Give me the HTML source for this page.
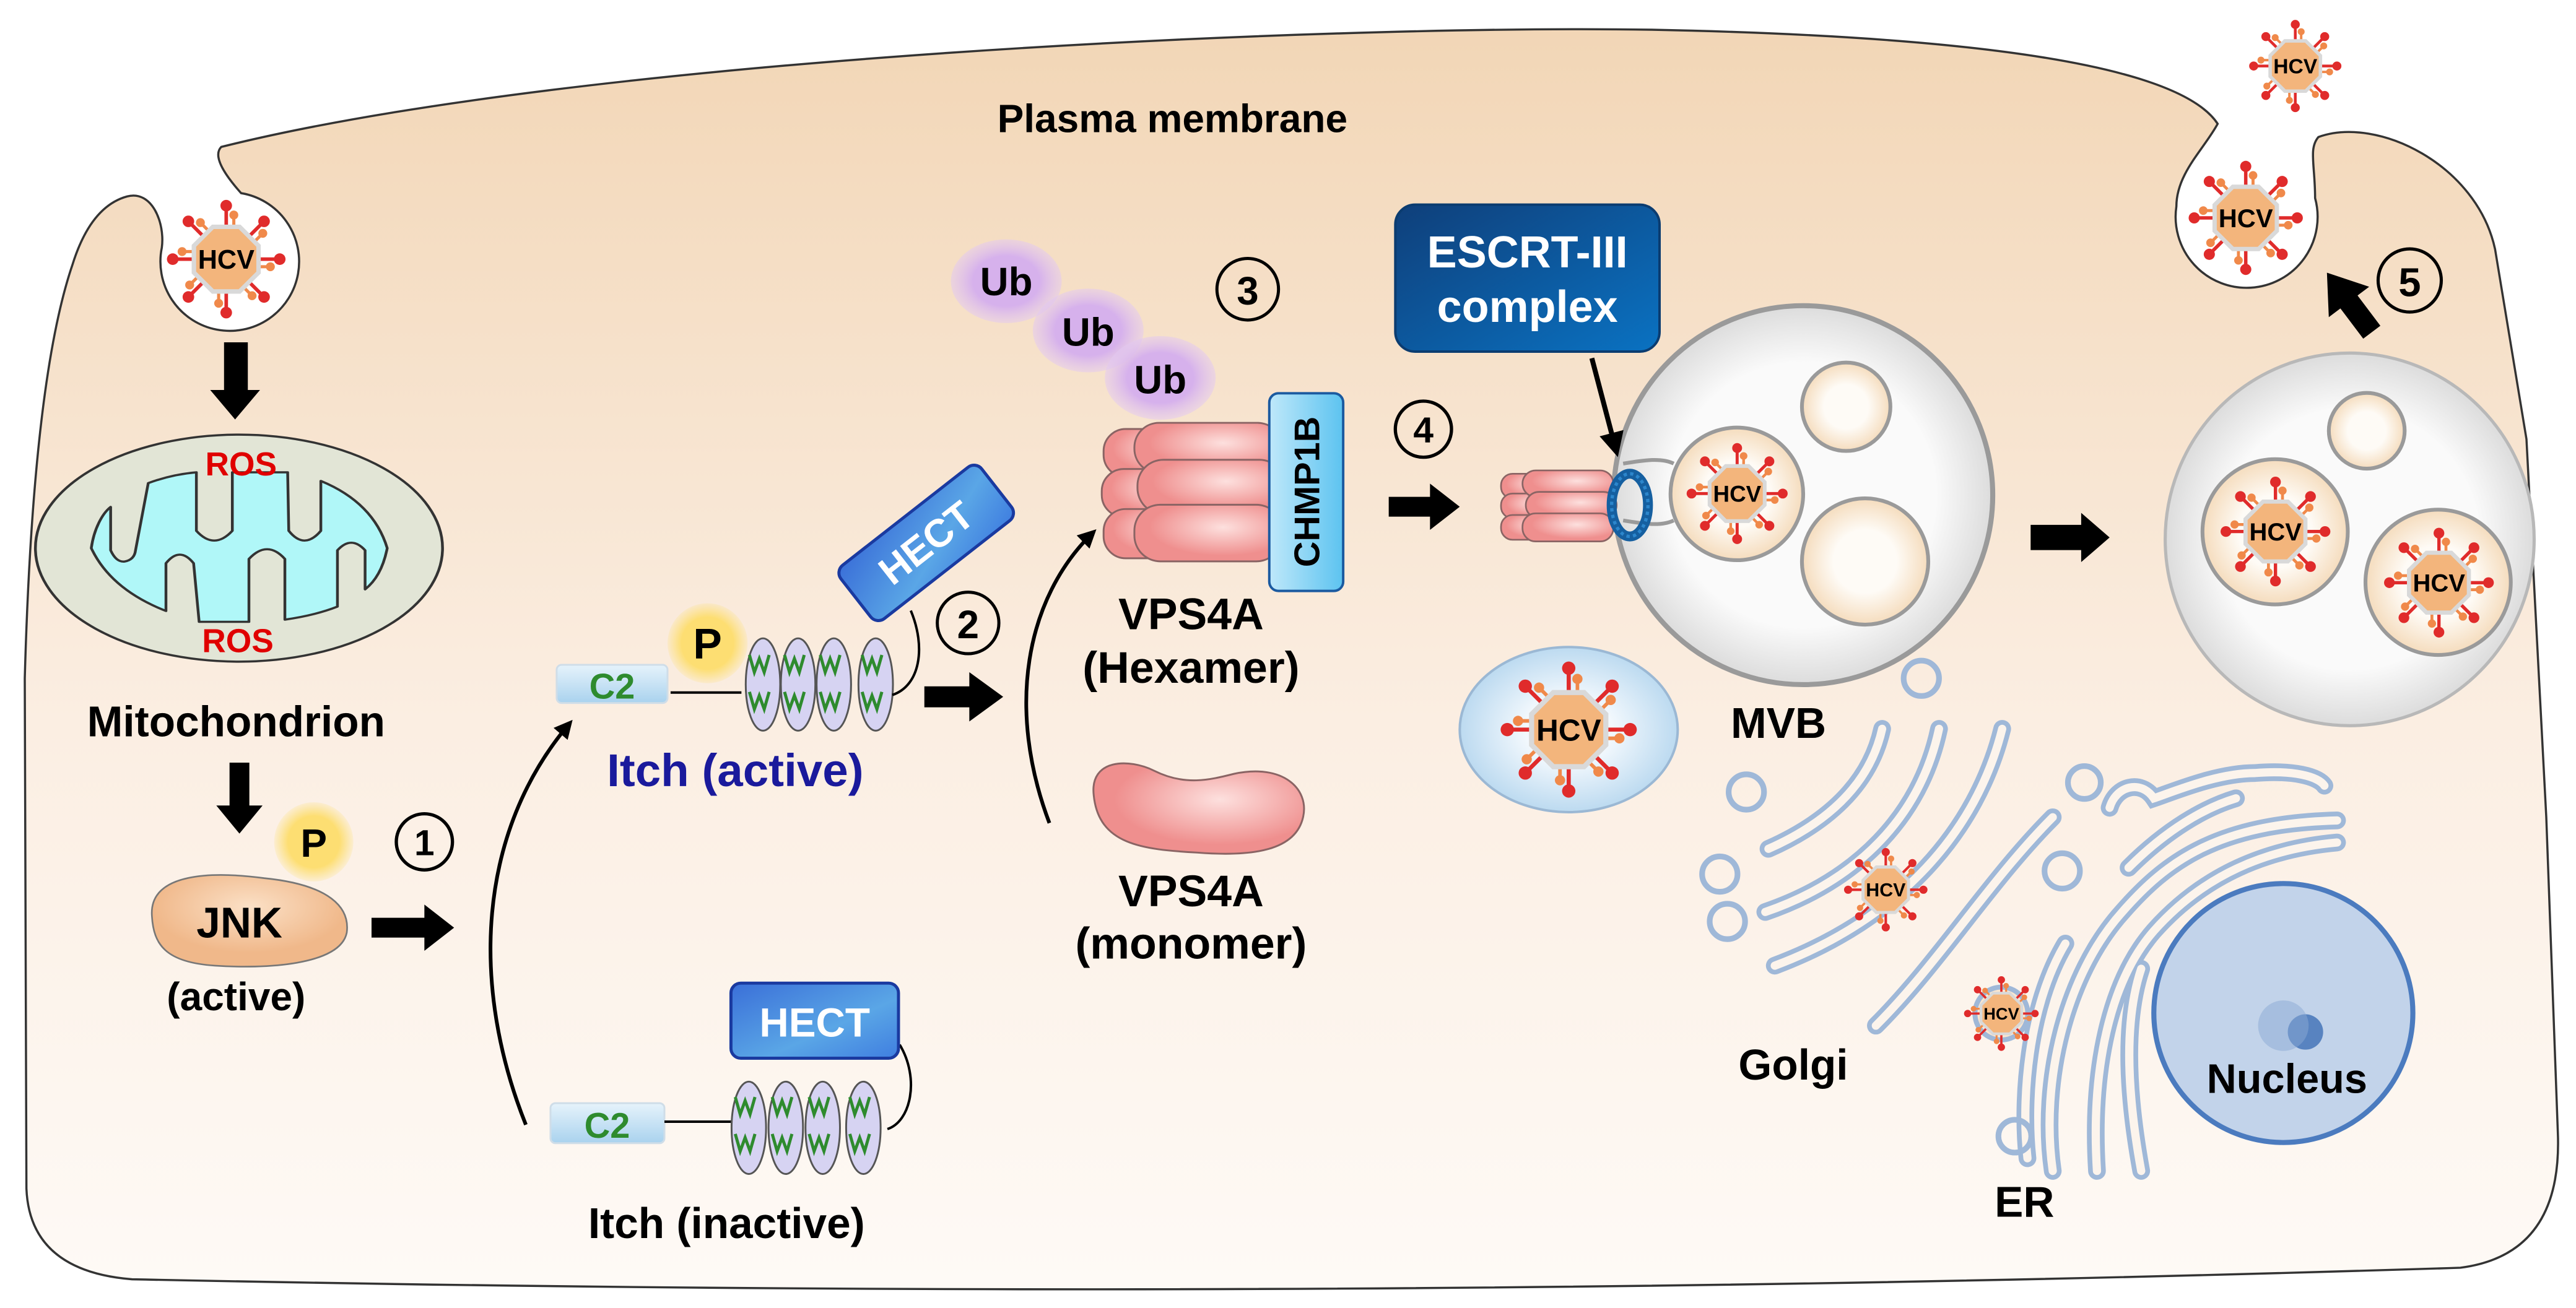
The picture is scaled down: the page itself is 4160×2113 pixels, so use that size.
<!DOCTYPE html>
<html><head><meta charset="utf-8"><style>
html,body{margin:0;padding:0;background:#fff;}
svg{display:block;font-family:"Liberation Sans",Arial,sans-serif;font-weight:bold;}
</style></head><body>
<svg width="4160" height="2113" viewBox="0 0 1560 792.4" preserveAspectRatio="none" xmlns="http://www.w3.org/2000/svg">
<defs>
<linearGradient id="cell" x1="0" y1="0" x2="0" y2="1"><stop offset="0" stop-color="#f2d6b6"/><stop offset="0.55" stop-color="#fbeee2"/><stop offset="1" stop-color="#fefaf6"/></linearGradient>
<radialGradient id="yel"><stop offset="0.65" stop-color="#fdde72"/><stop offset="1" stop-color="#fde07a" stop-opacity="0.2"/></radialGradient>
<radialGradient id="ub"><stop offset="0.6" stop-color="#d6b1ec"/><stop offset="1" stop-color="#e2c8f2" stop-opacity="0.5"/></radialGradient>
<linearGradient id="c2" x1="0" y1="0" x2="0" y2="1"><stop offset="0" stop-color="#e6f3fb"/><stop offset="1" stop-color="#a9d2ee"/></linearGradient>
<linearGradient id="hect" x1="0" y1="0" x2="1" y2="1"><stop offset="0" stop-color="#3a6fd8"/><stop offset="0.6" stop-color="#5aa6e6"/><stop offset="1" stop-color="#3f7ee0"/></linearGradient>
<linearGradient id="chmp" x1="0" y1="0" x2="1" y2="0"><stop offset="0" stop-color="#bfe8fa"/><stop offset="1" stop-color="#5cc3f0"/></linearGradient>
<linearGradient id="escrt" x1="0" y1="0" x2="1" y2="1"><stop offset="0" stop-color="#0f3f7a"/><stop offset="1" stop-color="#0a72c2"/></linearGradient>
<radialGradient id="pink" cx="0.6" cy="0.4"><stop offset="0" stop-color="#fde0de"/><stop offset="1" stop-color="#ef8f8e"/></radialGradient>
<radialGradient id="jnk" cx="0.5" cy="0.35"><stop offset="0" stop-color="#fbe0c6"/><stop offset="1" stop-color="#f0b88a"/></radialGradient>
<radialGradient id="mvb" cx="0.5" cy="0.5"><stop offset="0.7" stop-color="#fafafa"/><stop offset="1" stop-color="#dcdcdc"/></radialGradient>
<radialGradient id="ves" cx="0.5" cy="0.5"><stop offset="0.5" stop-color="#fefbf6"/><stop offset="1" stop-color="#f5dcbd"/></radialGradient>
<radialGradient id="blu" cx="0.5" cy="0.5"><stop offset="0.4" stop-color="#f2f8fd"/><stop offset="1" stop-color="#bcdaf0"/></radialGradient>
<marker id="ah" viewBox="0 0 10 10" refX="8" refY="5" markerWidth="5" markerHeight="5" orient="auto"><path d="M0,0 L10,5 L0,10 Z" fill="#000"/></marker>
<g id="spk"><line x1="0" y1="-13" x2="0" y2="-23" stroke="#e02b2b" stroke-width="1.6"/><circle cx="0" cy="-24" r="2.6" fill="#e02b2b"/><line x1="3.4" y1="-13" x2="3.4" y2="-19" stroke="#f0894a" stroke-width="1.4"/><circle cx="3.4" cy="-19.8" r="2" fill="#f0894a"/></g>
<g id="vir">
<use href="#spk"/><use href="#spk" transform="rotate(45)"/><use href="#spk" transform="rotate(90)"/><use href="#spk" transform="rotate(135)"/><use href="#spk" transform="rotate(180)"/><use href="#spk" transform="rotate(225)"/><use href="#spk" transform="rotate(270)"/><use href="#spk" transform="rotate(315)"/>
<polygon points="-6,-14.5 6,-14.5 14.5,-6 14.5,6 6,14.5 -6,14.5 -14.5,6 -14.5,-6" fill="#f3b57c" stroke="#d9d9d9" stroke-width="2"/>
</g>
</defs>

<!-- cell -->
<path d="M134,89 C350,35 800,15 1000,18 C1200,22 1320,40 1343,75 C1335,90 1318,105 1318,125 A43 43 0 1 0 1402,120 C1402,100 1398,90 1404,83 C1440,70 1500,100 1511,151 L1530,266 L1542,495 L1549,686 Q1552,760 1490,768 Q800,790 80,775 Q18,770 16,720 L15,411 Q20,230 44,160 Q55,125 77,119 C92,115 100,135 98,150 A42 42 0 1 0 146,117 C138,108 128,95 134,89 Z" fill="url(#cell)" stroke="#333" stroke-width="1.3"/>
<text x="710" y="80" font-size="24" text-anchor="middle">Plasma membrane</text>

<!-- viruses at membrane -->
<g transform="translate(137,157) scale(1.35)"><use href="#vir"/><text x="0" y="4.3" font-size="12" text-anchor="middle">HCV</text></g>
<g transform="translate(1360,132) scale(1.3)"><use href="#vir"/><text x="0" y="4.3" font-size="12" text-anchor="middle">HCV</text></g>
<g transform="translate(1390,40) scale(1.05)"><use href="#vir"/><text x="0" y="4.3" font-size="12" text-anchor="middle">HCV</text></g>

<!-- mitochondrion (zoom1 coords) -->
<g transform="scale(0.335,0.2625)">
<path d="M405,790 L448,790 L448,900 L470,900 L425,968 L380,900 L405,900 Z" fill="#000"/>
<ellipse cx="432" cy="1265" rx="368" ry="262" fill="#e2e5d6" stroke="#333" stroke-width="5"/>
<path d="M165,1265 C170,1220 185,1185 200,1170 L200,1270 Q210,1298 225,1296 Q243,1292 245,1270 L268,1115 Q310,1095 355,1090 L355,1225 Q387,1270 420,1225 L420,1090 L520,1090 L522,1225 Q550,1270 580,1225 L580,1110 Q675,1160 700,1265 Q690,1330 660,1360 L660,1270 Q635,1235 610,1270 L610,1400 Q570,1420 515,1430 L515,1290 Q483,1245 450,1290 L450,1435 L360,1435 L350,1300 Q325,1260 300,1300 L300,1410 Q200,1360 165,1265 Z" fill="#b0f7f8" stroke="#333" stroke-width="5" stroke-linejoin="round"/>
</g>
<text x="146" y="288" font-size="20" fill="#e00000" text-anchor="middle">ROS</text>
<text x="144" y="395" font-size="20" fill="#e00000" text-anchor="middle">ROS</text>
<text x="143" y="446" font-size="26" text-anchor="middle">Mitochondrion</text>
<path d="M139,462 L151,462 L151,488 L159,488 L145,505 L131,488 L139,488 Z" fill="#000"/>

<!-- JNK -->
<path d="M92,555 C90,528 130,528 160,532 C200,536 212,550 210,565 C206,585 160,587 130,585 C100,583 93,572 92,555 Z" fill="url(#jnk)" stroke="#777" stroke-width="1"/>
<circle cx="190" cy="510" r="24" fill="url(#yel)"/>
<text x="190" y="519" font-size="24" text-anchor="middle">P</text>
<text x="145" y="568" font-size="26" text-anchor="middle">JNK</text>
<text x="143" y="612" font-size="24" text-anchor="middle">(active)</text>
<circle cx="257" cy="510" r="17" fill="none" stroke="#000" stroke-width="2"/>
<text x="257" y="518" font-size="22" text-anchor="middle">1</text>
<path d="M225,556 L257,556 L257,548 L275,562 L257,576 L257,568 L225,568 Z" fill="#000"/>

<!-- middle (zoom3 coords) -->
<g transform="translate(262.5,131.2) scale(0.373)">
<path d="M150,1475 C60,1250 70,1000 222,822" fill="none" stroke="#000" stroke-width="6" marker-end="url(#ah)"/>
<path d="M1000,985 C930,800 960,620 1072,512" fill="none" stroke="#000" stroke-width="6" marker-end="url(#ah)"/>
<!-- inactive itch -->
<rect x="190" y="1440" width="185" height="65" rx="8" fill="url(#c2)" stroke="#cfdde8" stroke-width="3"/>
<text x="282" y="1496" font-size="58" fill="#2e8b2e" text-anchor="middle">C2</text>
<line x1="375" y1="1470" x2="485" y2="1470" stroke="#000" stroke-width="4"/>
<g stroke="#555" stroke-width="3" fill="#d6d3f2">
<ellipse cx="512" cy="1480" rx="28" ry="75"/><ellipse cx="572" cy="1480" rx="28" ry="75"/><ellipse cx="632" cy="1480" rx="28" ry="75"/><ellipse cx="698" cy="1480" rx="28" ry="75"/>
</g>
<g fill="none" stroke="#2e8b2e" stroke-width="5">
<path d="M490,1430 l8,28 l8,-22 l8,22 l8,-28 M490,1490 l8,28 l8,-22 l8,22 l8,-28"/>
<path d="M550,1430 l8,28 l8,-22 l8,22 l8,-28 M550,1490 l8,28 l8,-22 l8,22 l8,-28"/>
<path d="M610,1430 l8,28 l8,-22 l8,22 l8,-28 M610,1490 l8,28 l8,-22 l8,22 l8,-28"/>
<path d="M676,1430 l8,28 l8,-22 l8,22 l8,-28 M676,1490 l8,28 l8,-22 l8,22 l8,-28"/>
</g>
<path d="M757,1345 C790,1400 775,1470 737,1482" fill="none" stroke="#000" stroke-width="4"/>
<rect x="483" y="1245" width="272" height="122" rx="16" fill="url(#hect)" stroke="#1a3aa0" stroke-width="5"/>
<text x="619" y="1332" font-size="66" fill="#fff" text-anchor="middle">HECT</text>
<!-- active itch -->
<rect x="200" y="728" width="180" height="62" rx="8" fill="url(#c2)" stroke="#cfdde8" stroke-width="3"/>
<text x="290" y="783" font-size="58" fill="#2e8b2e" text-anchor="middle">C2</text>
<line x1="385" y1="773" x2="500" y2="773" stroke="#000" stroke-width="4"/>
<circle cx="445" cy="693" r="65" fill="url(#yel)"/>
<text x="445" y="718" font-size="70" text-anchor="middle">P</text>
<g stroke="#555" stroke-width="3" fill="#d6d3f2">
<ellipse cx="535" cy="760" rx="28" ry="75"/><ellipse cx="592" cy="760" rx="28" ry="75"/><ellipse cx="650" cy="760" rx="28" ry="75"/><ellipse cx="718" cy="760" rx="28" ry="75"/>
</g>
<g fill="none" stroke="#2e8b2e" stroke-width="5">
<path d="M513,712 l8,28 l8,-22 l8,22 l8,-28 M513,772 l8,28 l8,-22 l8,22 l8,-28"/>
<path d="M570,712 l8,28 l8,-22 l8,22 l8,-28 M570,772 l8,28 l8,-22 l8,22 l8,-28"/>
<path d="M628,712 l8,28 l8,-22 l8,22 l8,-28 M628,772 l8,28 l8,-22 l8,22 l8,-28"/>
<path d="M696,712 l8,28 l8,-22 l8,22 l8,-28 M696,772 l8,28 l8,-22 l8,22 l8,-28"/>
</g>
<path d="M775,640 C800,700 790,762 745,777" fill="none" stroke="#000" stroke-width="4"/>
<g transform="translate(800,530) rotate(-38)">
<rect x="-145" y="-55" width="290" height="110" rx="16" fill="url(#hect)" stroke="#1a3aa0" stroke-width="5"/>
<text x="0" y="22" font-size="64" fill="#fff" text-anchor="middle">HECT</text>
</g>
<text x="490" y="925" font-size="75" fill="#1a1a9c" text-anchor="middle">Itch (active)</text>
<circle cx="868" cy="660" r="50" fill="none" stroke="#000" stroke-width="5"/>
<text x="868" y="685" font-size="64" text-anchor="middle">2</text>
<path d="M797,763 L870,763 L870,740 L925,780 L870,820 L870,797 L797,797 Z" fill="#000"/>
<!-- Ub -->
<ellipse cx="930" cy="105" rx="90" ry="68" fill="url(#ub)"/>
<ellipse cx="1063" cy="185" rx="90" ry="68" fill="url(#ub)"/>
<ellipse cx="1180" cy="262" rx="90" ry="68" fill="url(#ub)"/>
<text x="930" y="128" font-size="64" text-anchor="middle">Ub</text>
<text x="1063" y="210" font-size="64" text-anchor="middle">Ub</text>
<text x="1180" y="287" font-size="64" text-anchor="middle">Ub</text>
<circle cx="1322" cy="118" r="50" fill="none" stroke="#000" stroke-width="5"/>
<text x="1322" y="143" font-size="64" text-anchor="middle">3</text>
<!-- hexamer -->
<g fill="url(#pink)" stroke="#8a6464" stroke-width="3">
<rect x="1088" y="345" width="150" height="78" rx="36"/>
<rect x="1085" y="410" width="150" height="78" rx="36"/>
<rect x="1088" y="475" width="150" height="80" rx="36"/>
<rect x="1138" y="335" width="240" height="82" rx="40"/>
<rect x="1143" y="395" width="240" height="88" rx="42"/>
<rect x="1138" y="468" width="240" height="92" rx="42"/>
</g>
<rect x="1357" y="287" width="120" height="321" rx="15" fill="url(#chmp)" stroke="#1b5aa0" stroke-width="4"/>
<text transform="translate(1438,447) rotate(-90)" x="0" y="0" font-size="58" text-anchor="middle">CHMP1B</text>
<text x="1230" y="670" font-size="72" text-anchor="middle">VPS4A</text>
<text x="1230" y="757" font-size="72" text-anchor="middle">(Hexamer)</text>
<path d="M1072,940 C1065,880 1130,880 1170,900 C1220,925 1260,915 1300,905 C1380,888 1422,930 1412,975 C1400,1030 1330,1040 1240,1033 C1150,1028 1080,1020 1072,940 Z" fill="url(#pink)" stroke="#8a6464" stroke-width="3"/>
<text x="1230" y="1120" font-size="72" text-anchor="middle">VPS4A</text>
<text x="1230" y="1205" font-size="72" text-anchor="middle">(monomer)</text>
</g>
<text x="440" y="750" font-size="26" text-anchor="middle">Itch (inactive)</text>

<!-- step 4 -->
<circle cx="862" cy="260" r="17" fill="none" stroke="#000" stroke-width="2"/>
<text x="862" y="268" font-size="22" text-anchor="middle">4</text>
<path d="M841,301 L866,301 L866,293 L884,307 L866,321 L866,313 L841,313 Z" fill="#000"/>
<rect x="845" y="124" width="160" height="89" rx="12" fill="url(#escrt)" stroke="#0b3c70" stroke-width="1.5"/>
<text x="925" y="162" font-size="27" fill="#fff" text-anchor="middle">ESCRT-III</text>
<text x="925" y="195" font-size="27" fill="#fff" text-anchor="middle">complex</text>

<!-- right part (zoom4 coords) -->
<g transform="translate(960,112.5) scale(0.3826)">
<g fill="none" stroke-linecap="round">
<g stroke="#9fb8d8" stroke-width="28">
<path d="M290,1050 C380,1010 450,950 470,860"/>
<path d="M285,1150 C430,1100 530,1000 560,860"/>
<path d="M300,1235 C500,1160 620,1020 660,860"/>
<path d="M460,1330 C560,1230 640,1100 740,1000"/>
<path d="M740,1560 C720,1420 760,1250 850,1150 C920,1070 1000,1010 1190,1005"/>
<path d="M810,1560 C800,1400 830,1260 900,1180 C980,1090 1080,1050 1190,1040"/>
<path d="M880,1560 C860,1450 850,1330 880,1240"/>
<path d="M700,1540 C690,1450 700,1300 760,1200"/>
<path d="M830,985 C840,950 880,940 900,970 C930,960 1000,930 1060,930 C1120,925 1160,935 1170,950"/>
<path d="M860,1080 C920,1020 980,985 1030,970"/>
</g>
<g stroke="#fcf4ec" stroke-width="13">
<path d="M290,1050 C380,1010 450,950 470,860"/>
<path d="M285,1150 C430,1100 530,1000 560,860"/>
<path d="M300,1235 C500,1160 620,1020 660,860"/>
<path d="M460,1330 C560,1230 640,1100 740,1000"/>
<path d="M740,1560 C720,1420 760,1250 850,1150 C920,1070 1000,1010 1190,1005"/>
<path d="M810,1560 C800,1400 830,1260 900,1180 C980,1090 1080,1050 1190,1040"/>
<path d="M880,1560 C860,1450 850,1330 880,1240"/>
<path d="M700,1540 C690,1450 700,1300 760,1200"/>
<path d="M830,985 C840,950 880,940 900,970 C930,960 1000,930 1060,930 C1120,925 1160,935 1170,950"/>
<path d="M860,1080 C920,1020 980,985 1030,970"/>
</g>
<g stroke="#9fb8d8" stroke-width="9">
<circle cx="255" cy="960" r="28"/><circle cx="213" cy="1090" r="28"/><circle cx="225" cy="1165" r="28"/><circle cx="532" cy="780" r="28"/><circle cx="790" cy="945" r="26"/><circle cx="755" cy="1085" r="28"/><circle cx="680" cy="1505" r="26"/>
</g>
</g>
<circle cx="1105" cy="1310" r="205" fill="#c2d3ea" stroke="#4b7bbf" stroke-width="8"/>
<circle cx="1140" cy="1340" r="28" fill="#3d6fb5" opacity="0.8"/>
<circle cx="1105" cy="1330" r="40" fill="#8aa9d4" opacity="0.5"/>
<circle cx="345" cy="490" r="300" fill="url(#mvb)" stroke="#9a9a9a" stroke-width="8"/>
<circle cx="413" cy="350" r="70" fill="url(#ves)" stroke="#9a9a9a" stroke-width="6"/>
<circle cx="443" cy="595" r="100" fill="url(#ves)" stroke="#9a9a9a" stroke-width="6"/>
<path d="M60,440 C90,435 120,430 140,440 M60,530 C90,535 120,540 140,530" fill="none" stroke="#9a9a9a" stroke-width="6"/>
<circle cx="240" cy="488" r="105" fill="url(#ves)" stroke="#9a9a9a" stroke-width="6"/>
<ellipse cx="1210" cy="560" rx="292" ry="295" fill="url(#mvb)" stroke="#b8b8b8" stroke-width="5"/>
<circle cx="1237" cy="388" r="60" fill="url(#ves)" stroke="#9a9a9a" stroke-width="6"/>
<circle cx="1092" cy="548" r="115" fill="url(#ves)" stroke="#9a9a9a" stroke-width="6"/>
<circle cx="1350" cy="628" r="115" fill="url(#ves)" stroke="#9a9a9a" stroke-width="6"/>
<path d="M705,537 L785,537 L785,518 L830,557 L785,596 L785,577 L705,577 Z" fill="#000"/>
<g transform="translate(1245,232) rotate(-37)"><path d="M-17,0 L-17,-60 L-40,-60 L0,-118 L40,-60 L17,-60 L17,0 Z" fill="#000"/></g>
<circle cx="1305" cy="150" r="50" fill="none" stroke="#000" stroke-width="5"/>
<text x="1305" y="175" font-size="64" text-anchor="middle">5</text>
</g>

<ellipse cx="950" cy="442" rx="66" ry="50" fill="url(#blu)" stroke="#9bb8d4" stroke-width="1.5"/>
<g fill="url(#pink)" stroke="#8a6464" stroke-width="1">
<rect x="909" y="287" width="32" height="15" rx="7"/><rect x="909" y="299" width="32" height="15" rx="7"/><rect x="909" y="312" width="32" height="15" rx="7"/>
<rect x="922" y="285" width="55" height="16" rx="8"/><rect x="924" y="298" width="55" height="16" rx="8"/><rect x="922" y="311" width="55" height="17" rx="8"/>
</g>
<ellipse cx="987" cy="306" rx="11" ry="19" fill="none" stroke="#155fa0" stroke-width="6"/>
<ellipse cx="987" cy="306" rx="11" ry="19" fill="none" stroke="#2c86cc" stroke-width="2" stroke-dasharray="2 2"/>
<line x1="964" y1="217" x2="979" y2="274" stroke="#000" stroke-width="3" marker-end="url(#ah)"/>

<g transform="translate(1052,299) scale(1.15)"><use href="#vir"/><text x="0" y="4.3" font-size="12" text-anchor="middle">HCV</text></g>
<g transform="translate(1378,322) scale(1.25)"><use href="#vir"/><text x="0" y="4.3" font-size="12" text-anchor="middle">HCV</text></g>
<g transform="translate(1477,353) scale(1.25)"><use href="#vir"/><text x="0" y="4.3" font-size="12" text-anchor="middle">HCV</text></g>
<g transform="translate(950,442) scale(1.55)"><use href="#vir"/><text x="0" y="4.3" font-size="12" text-anchor="middle">HCV</text></g>
<g transform="translate(1142,539) scale(0.95)"><use href="#vir"/><text x="0" y="4.3" font-size="12" text-anchor="middle">HCV</text></g>
<circle cx="1212" cy="614" r="16" fill="#fbe6cf" stroke="#9fb8d8" stroke-width="3"/>
<g transform="translate(1212,614) scale(0.85)"><use href="#vir"/><text x="0" y="4.3" font-size="12" text-anchor="middle">HCV</text></g>

<text x="1077" y="447" font-size="26" text-anchor="middle">MVB</text>
<text x="1086" y="654" font-size="26" text-anchor="middle">Golgi</text>
<text x="1385" y="662" font-size="25" text-anchor="middle">Nucleus</text>
<text x="1226" y="737" font-size="26" text-anchor="middle">ER</text>
</svg>
</body></html>
